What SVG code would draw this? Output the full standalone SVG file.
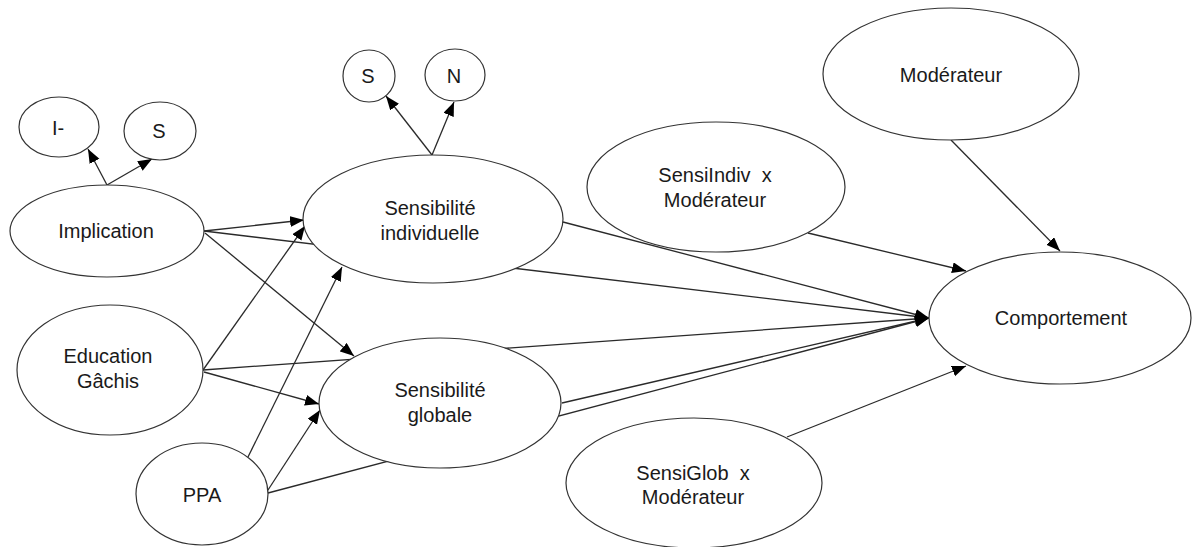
<svg xmlns="http://www.w3.org/2000/svg" width="1192" height="547" viewBox="0 0 1192 547">
<style>
.n ellipse{fill:#fff;stroke:#333;stroke-width:1.2}
.n text{font-family:"Liberation Sans",Arial,sans-serif;font-size:20px;fill:#1a1a1a;text-anchor:middle;white-space:pre}
#connectors line{stroke:#2a2a2a;stroke-width:1.3;marker-end:url(#ah)}
</style>
<defs>
<marker id="ah" markerUnits="userSpaceOnUse" markerWidth="15" markerHeight="12" refX="14" refY="5.5" orient="auto">
<path d="M0,0 L14,5.5 L0,11 z" fill="#000"/>
</marker>
</defs>
<rect width="1192" height="547" fill="#fff"/>
<g id="connectors">
<line x1="107" y1="185" x2="88" y2="149"/>
<line x1="107" y1="185" x2="152" y2="159"/>
<line x1="432" y1="155" x2="386" y2="96"/>
<line x1="432" y1="155" x2="454" y2="102"/>
<line x1="204" y1="231" x2="304" y2="220"/>
<line x1="204" y1="231" x2="929" y2="318"/>
<line x1="205" y1="233" x2="354" y2="356"/>
<line x1="203" y1="370" x2="305" y2="226"/>
<line x1="203" y1="370" x2="929" y2="318"/>
<line x1="204" y1="372" x2="319" y2="404"/>
<line x1="248" y1="457" x2="342" y2="267"/>
<line x1="268" y1="490" x2="320" y2="410"/>
<line x1="268" y1="493" x2="929" y2="318"/>
<line x1="563" y1="222" x2="929" y2="318"/>
<line x1="562" y1="403" x2="929" y2="318"/>
<line x1="951" y1="140" x2="1060" y2="251"/>
<line x1="808" y1="233" x2="966" y2="271"/>
<line x1="787" y1="437" x2="966" y2="366"/>
</g>
<g id="n-iminus" class="n"><ellipse cx="59" cy="127" rx="40" ry="30"/><text x="58" y="135">I-</text></g>
<g id="n-s1" class="n"><ellipse cx="160" cy="131" rx="36" ry="29"/><text x="159" y="138">S</text></g>
<g id="n-implication" class="n"><ellipse cx="107" cy="231" rx="97" ry="46"/><text x="106" y="238">Implication</text></g>
<g id="n-education" class="n"><ellipse cx="110" cy="370" rx="93" ry="65"/><text x="108" y="363">Education</text><text x="108" y="388">Gâchis</text></g>
<g id="n-ppa" class="n"><ellipse cx="202" cy="494" rx="66" ry="51"/><text x="202" y="502">PPA</text></g>
<g id="n-s2" class="n"><ellipse cx="369" cy="76" rx="26" ry="26"/><text x="368" y="83">S</text></g>
<g id="n-n" class="n"><ellipse cx="455" cy="75" rx="30" ry="26"/><text x="454" y="83">N</text></g>
<g id="n-sensiindiv" class="n"><ellipse cx="433" cy="219" rx="130" ry="64"/><text x="430" y="215">Sensibilité</text><text x="430" y="240">individuelle</text></g>
<g id="n-sensiglob" class="n"><ellipse cx="440" cy="403" rx="121" ry="65"/><text x="440" y="397">Sensibilité</text><text x="440" y="422">globale</text></g>
<g id="n-moderateur" class="n"><ellipse cx="951" cy="74" rx="128" ry="66"/><text x="951" y="82">Modérateur</text></g>
<g id="n-sensiindivmod" class="n"><ellipse cx="716" cy="187" rx="129" ry="65"/><text x="715" y="182">SensiIndiv  x</text><text x="715" y="207">Modérateur</text></g>
<g id="n-comportement" class="n"><ellipse cx="1060" cy="318" rx="131" ry="66"/><text x="1061" y="325">Comportement</text></g>
<g id="n-sensiglobmod" class="n"><ellipse cx="694" cy="483" rx="128" ry="65"/><text x="693" y="480">SensiGlob  x</text><text x="693" y="504">Modérateur</text></g>
</svg>
